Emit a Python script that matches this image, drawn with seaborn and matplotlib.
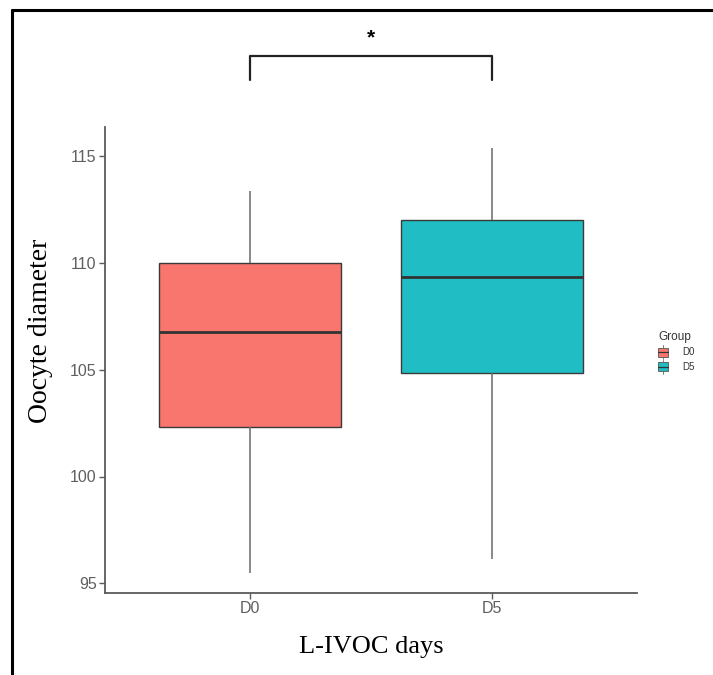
import numpy as np
import pandas as pd
import matplotlib
matplotlib.use("Agg")
import matplotlib.pyplot as plt
import seaborn as sns
from matplotlib.patches import Patch, Rectangle
from matplotlib.lines import Line2D
from matplotlib.legend_handler import HandlerBase

# Five-number summaries per group: min, Q1, median, Q3, max
groups = ["D0", "D5"]
d0_summary = [95.5, 102.3, 106.75, 110.0, 113.35]
d5_summary = [96.15, 104.85, 109.35, 112.0, 115.35]
colors = ["#F8766D", "#20BEC4"]
yticks = [95, 100, 105, 110, 115]
signif_label = "*"

df = pd.DataFrame({
    "Group": ["D0"] * len(d0_summary) + ["D5"] * len(d5_summary),
    "value": d0_summary + d5_summary,
})

sns.set_theme(style="white")
plt.rcParams["font.family"] = ["Liberation Sans", "DejaVu Sans"]

fig = plt.figure(figsize=(7.13, 6.75), dpi=100)
ax = fig.add_axes([105 / 713, 1 - 593 / 675, 532 / 713, 466 / 675])

sns.boxplot(
    data=df, x="Group", y="value", hue="Group", order=groups,
    palette=colors, saturation=1, width=0.75, whis=(0, 100), linewidth=1.0,
    linecolor="#3a3a3a", legend=False, ax=ax,
    whiskerprops=dict(color="#6a6a6a", linewidth=1.1),
    capprops=dict(linewidth=0),
    medianprops=dict(color="#333333", linewidth=2.0),
    boxprops=dict(edgecolor="#3a3a3a", linewidth=1.0),
)

ax.set_xlim(-0.6, 1.6)
ax.set_ylim(94.55, 116.35)
ax.set_yticks(yticks)
ax.set_yticklabels([str(t) for t in yticks])

for side in ["top", "right"]:
    ax.spines[side].set_visible(False)
for side in ["left", "bottom"]:
    ax.spines[side].set_color("#5a5a5a")
    ax.spines[side].set_linewidth(1.3)
ax.tick_params(axis="both", which="both", length=4, width=1.0, color="#5a5a5a",
               labelsize=11.5, labelcolor="#5f5f5f", pad=2, left=True, bottom=True)

ax.set_xlabel("L-IVOC days", family=["Liberation Serif", "DejaVu Serif"],
              fontsize=19, color="black", labelpad=14)
ax.set_ylabel("Oocyte diameter", family=["Liberation Serif", "DejaVu Serif"],
              fontsize=20, color="black")
ax.yaxis.set_label_coords(-0.097, (593 - 331) / 466)

# Significance bracket between the two groups
bracket_y, tip_y = 119.68, 118.55
ax.plot([0, 0, 1, 1], [tip_y, bracket_y, bracket_y, tip_y], color="#222222",
        linewidth=1.6, clip_on=False, solid_joinstyle="round")
ax.text(0.5, 120.5, signif_label, ha="center", va="center", fontsize=15,
        fontweight="bold", color="black", clip_on=False)


class BoxKey(HandlerBase):
    def create_artists(self, legend, orig_handle, xdescent, ydescent,
                       width, height, fontsize, trans):
        fc = orig_handle.get_facecolor()
        x0, y0 = -xdescent, -ydescent
        bh = height * 0.8
        rect = Rectangle((x0, y0 + (height - bh) / 2), width, bh,
                         facecolor=fc, edgecolor="#555555", linewidth=0.6,
                         transform=trans)
        med = Line2D([x0, x0 + width], [y0 + height / 2] * 2,
                     color="#333333", linewidth=0.9, transform=trans)
        wtop = Line2D([x0 + width / 2] * 2, [y0 + (height + bh) / 2, y0 + height * 1.12],
                      color="#666666", linewidth=0.6, transform=trans)
        wbot = Line2D([x0 + width / 2] * 2, [y0 - height * 0.12, y0 + (height - bh) / 2],
                      color="#666666", linewidth=0.6, transform=trans)
        return [rect, med, wtop, wbot]


handles = [Patch(facecolor=c, label=g) for g, c in zip(groups, colors)]
leg = ax.legend(handles=handles, title="Group", frameon=False,
                loc="upper left", bbox_to_anchor=(658 / 713, 1 - 331 / 675),
                bbox_transform=fig.transFigure, fontsize=7,
                title_fontsize=8.5, handlelength=1.05, handleheight=1.4,
                handletextpad=1.4, labelspacing=0.35, borderpad=0,
                borderaxespad=0, alignment="left",
                handler_map={Patch: BoxKey()})
leg.get_title().set_color("#333333")
for t in leg.get_texts():
    t.set_color("#333333")

# Outer frame lines along the top and left edges
fig.add_artist(Line2D([12 / 713, 1.0], [1 - 10 / 675] * 2, color="black",
                      linewidth=2.2, transform=fig.transFigure))
fig.add_artist(Line2D([12 / 713] * 2, [0.0, 1 - 10 / 675], color="black",
                      linewidth=2.2, transform=fig.transFigure))

fig.savefig("out.png", dpi=100)
